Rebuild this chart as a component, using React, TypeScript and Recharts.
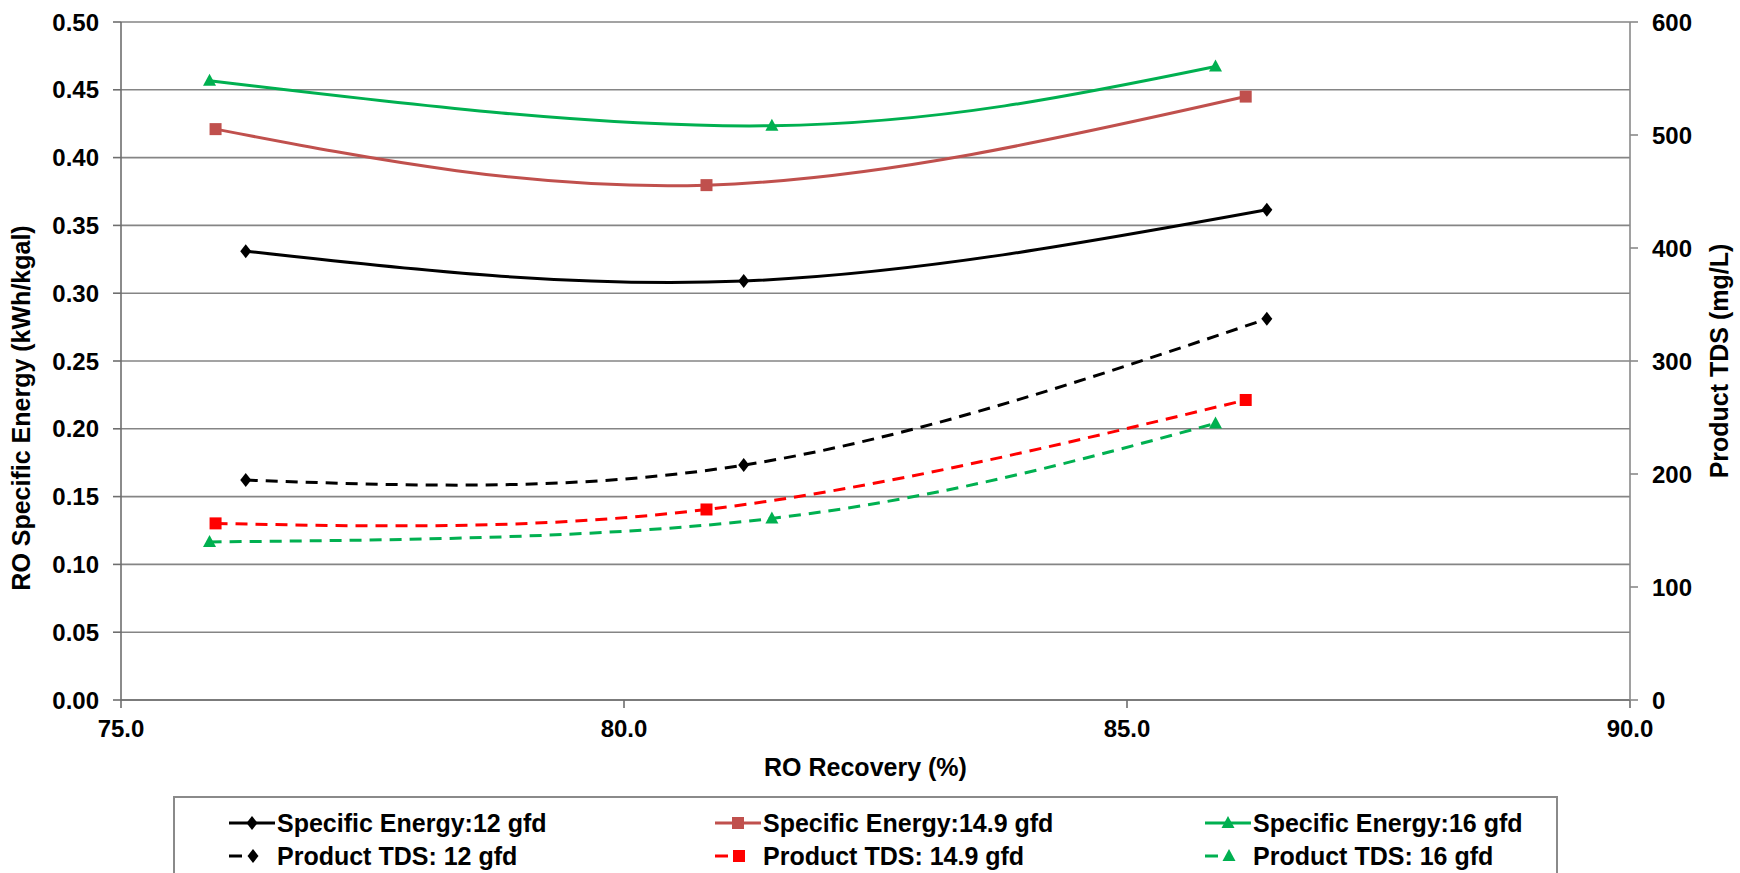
import React from 'react';
import { LineChart, Line, XAxis, YAxis, CartesianGrid, Legend } from 'recharts';

// ---- data ----
const recovery12 = [76.24, 81.19, 86.39];
const recovery149 = [75.94, 80.82, 86.18];
const recovery16 = [75.88, 81.47, 85.88];

const energy12 = [0.331, 0.309, 0.3615];
const energy149 = [0.421, 0.3797, 0.445];
const energy16 = [0.4567, 0.4235, 0.4672];

const tds12 = [194.6, 207.9, 337.3];
const tds149 = [156.3, 168.6, 265.5];
const tds16 = [139.9, 160.7, 244.8];

const xTicks = [75, 80, 85, 90];
const leftTicks = [0, 0.05, 0.1, 0.15, 0.2, 0.25, 0.3, 0.35, 0.4, 0.45, 0.5];
const rightTicks = [0, 100, 200, 300, 400, 500, 600];

const seriesNames = [
  'Specific Energy:12 gfd',
  'Specific Energy:14.9 gfd',
  'Specific Energy:16 gfd',
  'Product TDS: 12 gfd',
  'Product TDS: 14.9 gfd',
  'Product TDS: 16 gfd',
];

type Shape = 'diamond' | 'square' | 'triangle';

const toPoints = (xs: number[], ys: number[]) => xs.map((x, i) => ({ x, y: ys[i] }));

const series = [
  { name: seriesNames[0], data: toPoints(recovery12, energy12), axis: 'left', color: '#000000', shape: 'diamond' as Shape, dashed: false },
  { name: seriesNames[1], data: toPoints(recovery149, energy149), axis: 'left', color: '#C0504D', shape: 'square' as Shape, dashed: false },
  { name: seriesNames[2], data: toPoints(recovery16, energy16), axis: 'left', color: '#00B050', shape: 'triangle' as Shape, dashed: false },
  { name: seriesNames[3], data: toPoints(recovery12, tds12), axis: 'right', color: '#000000', shape: 'diamond' as Shape, dashed: true },
  { name: seriesNames[4], data: toPoints(recovery149, tds149), axis: 'right', color: '#FF0000', shape: 'square' as Shape, dashed: true },
  { name: seriesNames[5], data: toPoints(recovery16, tds16), axis: 'right', color: '#00B050', shape: 'triangle' as Shape, dashed: true },
];

const FONT = '"Liberation Sans", Arial, Helvetica, sans-serif';
const W = 1740;
const H = 873;
const DASH = '12 8';

function Marker({ cx, cy, color, shape }: { cx: number; cy: number; color: string; shape: Shape }) {
  if (cx == null || cy == null || isNaN(cx) || isNaN(cy)) return null;
  if (shape === 'diamond') {
    return <polygon points={`${cx},${cy - 7} ${cx + 5.5},${cy} ${cx},${cy + 7} ${cx - 5.5},${cy}`} fill={color} />;
  }
  if (shape === 'square') {
    return <rect x={cx - 6} y={cy - 6} width={12} height={12} fill={color} />;
  }
  return <polygon points={`${cx},${cy - 7} ${cx + 6.5},${cy + 5} ${cx - 6.5},${cy + 5}`} fill={color} />;
}

function YTitle(props: any) {
  const vb = props.viewBox || {};
  const cx = (vb.x ?? 0) + props.dx;
  const cy = props.cy ?? (vb.y ?? 22) + (vb.height ?? 678) / 2;
  return (
    <text
      x={cx}
      y={cy}
      transform={`rotate(-90 ${cx} ${cy})`}
      textAnchor="middle"
      dominantBaseline="central"
      fontFamily={FONT}
      fontWeight={700}
      fontSize={25}
      fill="#000"
    >
      {props.text}
    </text>
  );
}

function XTitle(props: any) {
  const vb = props.viewBox || {};
  const cx = (vb.x ?? 121) + (vb.width ?? 1509) / 2 - 10;
  const cy = 767;
  return (
    <text x={cx} y={cy} textAnchor="middle" dominantBaseline="central" fontFamily={FONT} fontWeight={700} fontSize={25} fill="#000">
      {props.text}
    </text>
  );
}

function LegendBox() {
  const colX = [54, 540, 1030];
  const rowY = [25, 58];
  return (
    <div
      style={{
        position: 'relative',
        width: 1385,
        height: 80,
        boxSizing: 'border-box',
        borderTop: '2px solid #8a8a8a',
        borderLeft: '2px solid #8a8a8a',
        borderRight: '2px solid #8a8a8a',
        background: '#fff',
        fontFamily: FONT,
        fontWeight: 700,
        fontSize: 25,
        color: '#000',
      }}
    >
      {series.map((s, i) => {
        const col = i % 3;
        const row = Math.floor(i / 3);
        return (
          <div
            key={s.name}
            style={{
              position: 'absolute',
              left: colX[col],
              top: rowY[row] - 15,
              height: 30,
              display: 'flex',
              alignItems: 'center',
              whiteSpace: 'nowrap',
            }}
          >
            <svg width={50} height={30} style={{ display: 'block' }}>
              {s.dashed ? (
                <line x1={0} y1={15} x2={13} y2={15} stroke={s.color} strokeWidth={3} />
              ) : (
                <line x1={0} y1={15} x2={46} y2={15} stroke={s.color} strokeWidth={3} />
              )}
              <Marker cx={s.dashed ? 24 : 23} cy={15} color={s.color} shape={s.shape} />
            </svg>
            <span style={{ marginLeft: -2 }}>{s.name}</span>
          </div>
        );
      })}
    </div>
  );
}

export default function App() {
  const tickStyle = { fill: '#000', fontSize: 24, fontWeight: 700, fontFamily: FONT };
  return (
    <div style={{ position: 'absolute', left: 0, top: 0, width: W, height: H, background: '#fff', overflow: 'hidden' }}>
      <LineChart width={W} height={H} margin={{ top: 22, right: 0, bottom: 0, left: 0 }}>
        <CartesianGrid yAxisId="left" vertical={false} stroke="#858585" strokeWidth={1.6} />
        <XAxis
          dataKey="x"
          type="number"
          domain={[75, 90]}
          ticks={xTicks}
          allowDataOverflow
          tickFormatter={(v: number) => v.toFixed(1)}
          height={96}
          tickSize={8}
          tickMargin={12}
          tick={tickStyle}
          stroke="#6e6e6e"
          strokeWidth={1.6}
          label={<XTitle text="RO Recovery (%)" />}
        />
        <YAxis
          yAxisId="left"
          domain={[0, 0.5]}
          ticks={leftTicks}
          allowDataOverflow
          tickFormatter={(v: number) => v.toFixed(2)}
          width={121}
          tickSize={8}
          tickMargin={14}
          tick={tickStyle}
          stroke="#6e6e6e"
          strokeWidth={1.6}
          label={<YTitle text="RO Specific Energy (kWh/kgal)" dx={21} cy={408} />}
        />
        <YAxis
          yAxisId="right"
          orientation="right"
          domain={[0, 600]}
          ticks={rightTicks}
          allowDataOverflow
          width={110}
          tickSize={8}
          tickMargin={14}
          tick={tickStyle}
          stroke="#8a8a8a"
          strokeWidth={1.6}
          label={<YTitle text="Product TDS (mg/L)" dx={89} />}
        />
        <Legend
          verticalAlign="bottom"
          align="left"
          height={77}
          wrapperStyle={{ left: 173, bottom: 0, width: 1385, height: 77 }}
          content={() => <LegendBox />}
        />
        {series.map((s) => (
          <Line
            key={s.name}
            name={s.name}
            data={s.data}
            dataKey="y"
            yAxisId={s.axis}
            type="natural"
            stroke={s.color}
            strokeWidth={3}
            strokeDasharray={s.dashed ? DASH : undefined}
            isAnimationActive={false}
            activeDot={false}
            dot={(p: any) => <Marker key={`${s.name}-${p.index}`} cx={p.cx} cy={p.cy} color={s.color} shape={s.shape} />}
          />
        ))}
      </LineChart>
    </div>
  );
}
